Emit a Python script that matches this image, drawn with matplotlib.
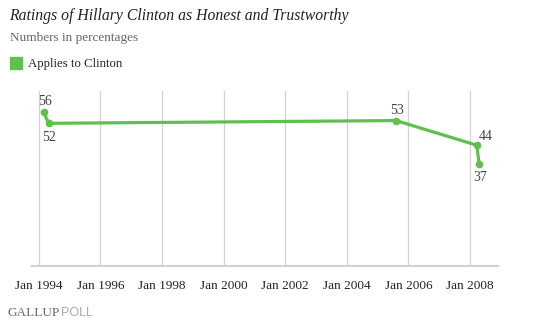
import matplotlib
matplotlib.use("Agg")
import matplotlib.pyplot as plt
from matplotlib.patches import Rectangle

# Data (decimal years)
dates = [1994.16, 1994.32, 2005.60, 2008.22, 2008.30]
values = [56, 52, 53, 44, 37]
tick_years = [1994, 1996, 1998, 2000, 2002, 2004, 2006, 2008]
tick_labels = ["Jan 1994", "Jan 1996", "Jan 1998", "Jan 2000",
               "Jan 2002", "Jan 2004", "Jan 2006", "Jan 2008"]
series_name = "Applies to Clinton"
title = "Ratings of Hillary Clinton as Honest and Trustworthy"
subtitle = "Numbers in percentages"

green = "#60BF4E"
serif = ["Liberation Serif", "DejaVu Serif"]

W, H = 543, 325
fig = plt.figure(figsize=(W / 100, H / 100), dpi=100)
ax = fig.add_axes([32.3 / W, 1 - 265.7 / H, (498 - 32.3) / W, (265.7 - 91) / H])

ax.set_xlim(1993.79, 2008.91)
ax.set_ylim(0, 63.8)

for t in tick_years:
    ax.axvline(t, color="#d2d2d2", lw=0.9, zorder=1)

ax.plot(dates, values, color=green, lw=2.3, marker="o", ms=4.5,
        solid_capstyle="round", zorder=3, clip_on=False)

# data labels: (dx, dy) in points
offsets = [(0.7, 5.0, "baseline"), (0, -5.5, "top"),
           (0.5, 4.8, "baseline"), (6.7, 3.6, "baseline"),
           (0.5, -5.0, "top")]
for x, y, (dx, dy, va) in zip(dates, values, offsets):
    ax.annotate(str(y), (x, y), xytext=(dx, dy), textcoords="offset points",
                ha="center", va=va, fontsize=10, family=serif, color="#444444")

for s in ["left", "right", "top"]:
    ax.spines[s].set_visible(False)
ax.spines["bottom"].set_color("#d2d2d2")
ax.spines["bottom"].set_linewidth(1.6)
ax.set_yticks([])
ax.set_xticks(tick_years)
ax.set_xticklabels(tick_labels, family=serif, fontsize=9.5, color="#222222")
ax.tick_params(axis="x", length=0, pad=10)

fig.text(9 / W, 1 - 19.5 / H, title, family=serif, style="italic",
         fontsize=11.3, color="#222222", va="baseline")
fig.text(9.5 / W, 1 - 41 / H, subtitle, family=serif, fontsize=9.5,
         color="#666666", va="baseline")
fig.patches.append(Rectangle((9.5 / W, 1 - 69 / H), 12 / W, 12 / H,
                             transform=fig.transFigure, color=green))
fig.text(28 / W, 1 - 67 / H, series_name, family=serif, fontsize=9.2,
         color="#222222", va="baseline")

t1 = fig.text(7 / W, 1 - 316 / H, "GALLUP", family=serif, fontsize=9.5,
              color="#6a6a6a", va="baseline")
fig.canvas.draw()
bb = t1.get_window_extent()
fig.text(bb.x1 / W + 2 / W, 1 - 316 / H, "POLL", family=["Liberation Sans", "DejaVu Sans"],
         fontsize=9, color="#aaaaaa", va="baseline")

fig.savefig("out.png", dpi=100)
